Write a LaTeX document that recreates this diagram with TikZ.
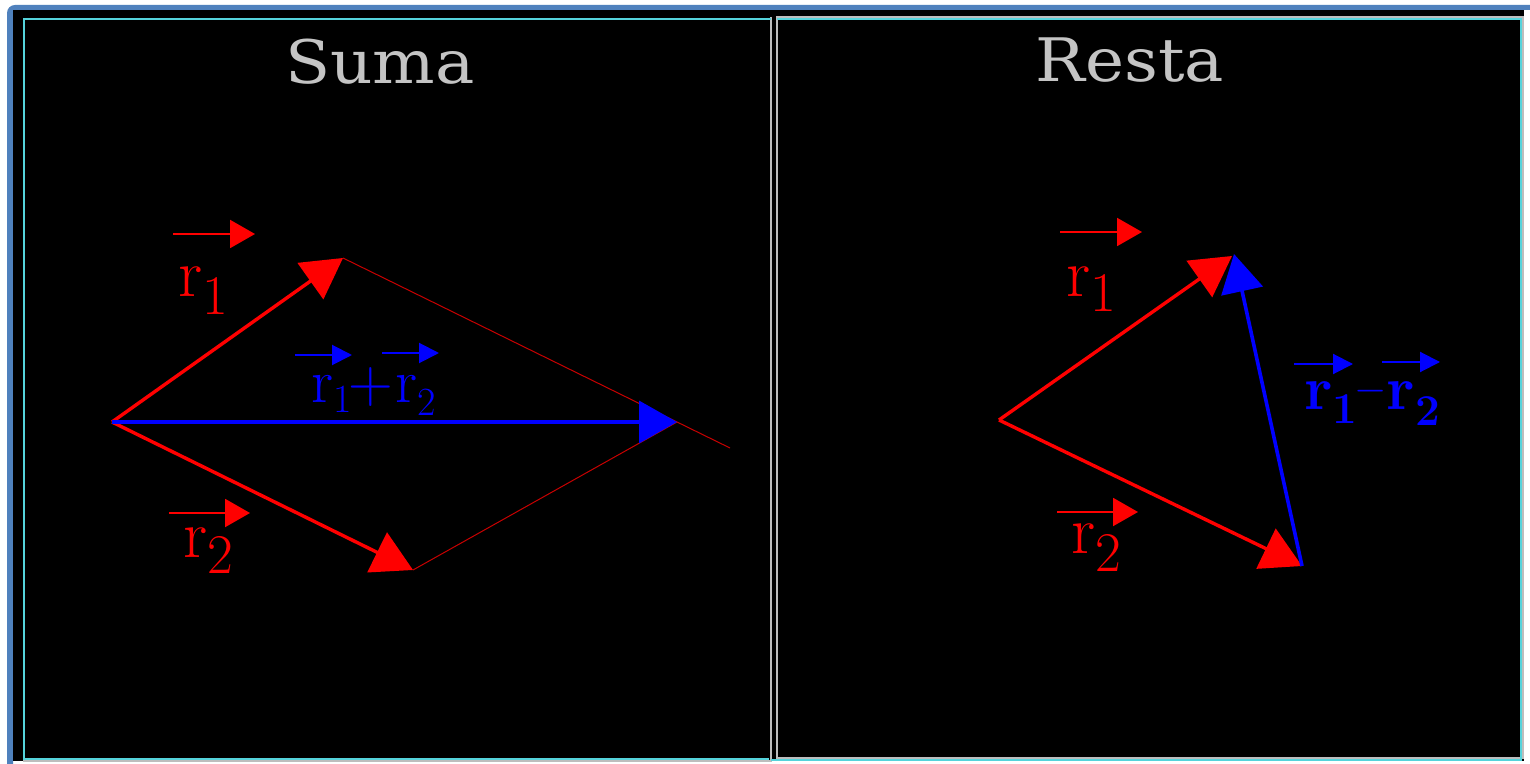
\documentclass[tikz,border=0pt]{standalone}
\usepackage{fontspec}
\newfontfamily\titlefont{DejaVu Serif}
\usetikzlibrary{arrows.meta}
\definecolor{frameblue}{HTML}{4F81BD}
\definecolor{panelcyan}{HTML}{55D3DB}
\definecolor{panelgray}{HTML}{BDBDBD}
\definecolor{titlegray}{HTML}{C4C4C4}
\definecolor{vred}{HTML}{FF0000}
\definecolor{vblue}{HTML}{0000FF}
\definecolor{thinred}{HTML}{C80000}
\tikzset{
  grayline/.style={draw=panelgray, line width=1pt},
  cyanline/.style={draw=panelcyan, line width=1pt},
  titletext/.style={text=titlegray, font=\titlefont\fontsize{30}{30}\selectfont, inner sep=0pt, anchor=base},
  redvec/.style={draw=vred, line width=1.7pt, -{Triangle[length=20pt,width=22pt]}},
  bluevec/.style={draw=vblue, line width=1.8pt, -{Triangle[length=19pt,width=21pt]}},
  thinline/.style={draw=thinred, line width=0.5pt},
  redover/.style={draw=vred, line width=1pt, -{Triangle[length=12.5pt,width=14pt]}},
  blueover/.style={draw=vblue, line width=1pt, -{Triangle[length=10pt,width=10pt]}},
  redlab/.style={text=vred, inner sep=0pt, anchor=base west, font=\fontsize{34}{34}\selectfont},
  bluelab/.style={text=vblue, inner sep=0pt, anchor=base west},
}
\newcommand{\subnum}[3]{\raisebox{-#2}{\fontsize{#3}{#3}\selectfont #1}}
\begin{document}
\begin{tikzpicture}[x=0.5pt,y=-0.5pt]
\useasboundingbox (0,0) rectangle (1530,764);
\fill[white] (0,0) rectangle (1530,764);
\fill[frameblue] (7,764) [rounded corners=4pt] -- (7,5) [sharp corners] -- (1530,5) -- (1530,10) -- (13,10) -- (13,764) -- cycle;
\fill[black] (13,10) rectangle (1524,761);
% panels
\draw[grayline] (771,17) -- (771,761) -- (23,761);
\draw[cyanline] (771,19) -- (24,19) -- (24,759) -- (769,759);
\draw[grayline] (777,761) -- (777,17) -- (1523,17) -- (1523,758) -- (777,758);
\draw[cyanline] (777,19) -- (1521,19) -- (1521,760) -- (771,760);
% titles
\node[titletext] (tsuma) at (380,84) {\scalebox{1.1}[1]{Suma}};
\node[titletext] (tresta) at (1130,82) {\scalebox{1.1}[1]{Resta}};
% ---------- Suma ----------
\coordinate (O1) at (112,422);
\coordinate (A1) at (343,258);
\coordinate (B1) at (413,570);
\coordinate (S1) at (677,422);
\coordinate (E1) at (730,448);
\draw[thinline] (A1) -- (E1);
\draw[thinline] (B1) -- (S1);
\draw[redvec] (O1) -- (A1);
\draw[redvec] (O1) -- (B1);
\draw[bluevec] (O1) -- (S1);
\coordinate (la1s) at (173,234); \coordinate (la1e) at (255,234);
\coordinate (la2s) at (169,513); \coordinate (la2e) at (250,513);
\draw[redover] (la1s) -- (la1e);
\draw[redover] (la2s) -- (la2e);
\node[redlab] (lr1) at (178,297) {r\subnum{1}{9pt}{28}};
\node[redlab] (lr2) at (183,557) {r\subnum{2}{8pt}{28}};
\coordinate (lb1s) at (295,355); \coordinate (lb1e) at (352,355);
\coordinate (lb2s) at (382,353); \coordinate (lb2e) at (439,353);
\draw[blueover] (lb1s) -- (lb1e);
\draw[blueover] (lb2s) -- (lb2e);
\node[bluelab, font=\fontsize{31}{31}\selectfont] (lsum) at (311,402)
  {r\subnum{1}{5pt}{20}\kern-1.5pt+\kern1pt r\subnum{2}{6.5pt}{20}};
% ---------- Resta ----------
\coordinate (O2) at (999,420);
\coordinate (A2) at (1232,256);
\coordinate (B2) at (1302,566);
\coordinate (A2b) at (1234,254);
\draw[redvec] (O2) -- (A2);
\draw[redvec] (O2) -- (B2);
\draw[bluevec] (B2) -- (A2b);
\coordinate (ra1s) at (1060,232); \coordinate (ra1e) at (1142,232);
\coordinate (ra2s) at (1057,512); \coordinate (ra2e) at (1138,512);
\draw[redover] (ra1s) -- (ra1e);
\draw[redover] (ra2s) -- (ra2e);
\node[redlab] (rr1) at (1066,297) {r\subnum{1}{7.5pt}{28}};
\node[redlab] (rr2) at (1071,553) {r\subnum{2}{9pt}{28}};
\coordinate (rb1s) at (1294,364); \coordinate (rb1e) at (1353,364);
\coordinate (rb2s) at (1382,362); \coordinate (rb2e) at (1440,362);
\draw[blueover] (rb1s) -- (rb1e);
\draw[blueover] (rb2s) -- (rb2e);
\node[bluelab, font=\fontsize{31}{31}\selectfont] (rdiff) at (1304,409)
  {{\bfseries r\subnum{1}{7pt}{22}}\kern-1.5pt\raisebox{4pt}{\fontsize{21}{21}\selectfont$-$}{\bfseries r\subnum{2}{8pt}{22}}};
\end{tikzpicture}
\end{document}
